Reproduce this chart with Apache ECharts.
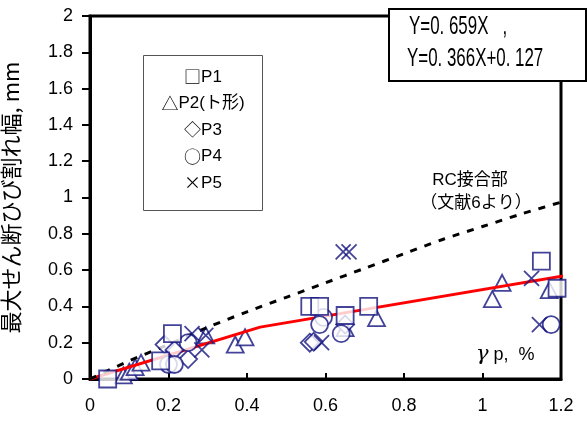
<!DOCTYPE html>
<html>
<head>
<meta charset="utf-8">
<script src="https://cdn.jsdelivr.net/npm/echarts@6/dist/echarts.min.js"></script>
<style>
  html, body { margin: 0; padding: 0; background: #fff; }
  #chart { width: 587px; height: 423px; }
</style>
</head>
<body>
<div id="chart"></div>
<script>
// Tick labels
const xTickLabels = ['0', '0.2', '0.4', '0.6', '0.8', '1', '1.2'];
const yTickLabels = ['0', '0.2', '0.4', '0.6', '0.8', '1', '1.2', '1.4', '1.6', '1.8', '2'];

// Specimen P1 (squares)
const p1X = [0.045, 0.18, 0.21, 0.56, 0.585, 0.65, 0.71, 1.15, 1.19];
const p1Y = [0.0, 0.10, 0.25, 0.40, 0.40, 0.35, 0.40, 0.65, 0.50];

// Specimen P2, T-shaped joint (triangles)
const p2X = [0.085, 0.10, 0.115, 0.13, 0.295, 0.37, 0.395, 0.65, 0.73, 1.025, 1.05, 1.17];
const p2Y = [0.02, 0.04, 0.065, 0.09, 0.24, 0.19, 0.23, 0.28, 0.335, 0.44, 0.53, 0.49];

// Specimen P3 (diamonds)
const p3X = [0.19, 0.215, 0.25, 0.56, 0.57, 0.65];
const p3Y = [0.19, 0.16, 0.11, 0.20, 0.205, 0.30];

// Specimen P4 (circles)
const p4X = [0.20, 0.215, 0.25, 0.595, 0.585, 0.64, 1.175];
const p4Y = [0.08, 0.08, 0.20, 0.34, 0.30, 0.25, 0.30];

// Specimen P5 (crosses)
const p5X = [0.26, 0.295, 0.285, 0.59, 0.645, 0.66, 1.125, 1.145];
const p5Y = [0.25, 0.24, 0.16, 0.20, 0.70, 0.70, 0.555, 0.30];

// Regression: Y=0.659X, then Y=0.366X+0.127
const fitX = [0, 0.4334, 1.225];
const fitY = [0, 0.2857, 0.575];

// RC joint reference curve
const rcX = [0, 0.1, 0.2, 0.3, 0.4, 0.5, 0.6, 0.7, 0.8, 0.9, 1.0, 1.1, 1.225];
const rcY = [0, 0.10, 0.19, 0.285, 0.37, 0.45, 0.53, 0.61, 0.69, 0.77, 0.84, 0.91, 0.99];

const NAVY = '#14147f';
const pairs = (xs, ys) => xs.map((x, i) => [x, ys[i]]);

function markers(name, xs, ys, symbol, size, z, fill) {
  return {
    name, type: 'scatter', data: pairs(xs, ys), symbol, symbolSize: size,
    clip: false, silent: true, z,
    itemStyle: { color: fill, borderColor: NAVY, borderWidth: 1.8 }
  };
}

const chart = echarts.init(document.getElementById('chart'), null, { renderer: 'canvas' });

const labelFont = { fontFamily: 'Liberation Sans, Arial, sans-serif', fontSize: 18, color: '#000' };

// key entries: symbol glyph + specimen name
const keySymbols = ['□', '△', '◇', '○', '×'];
const keyNames = ['P1', 'P2(ト形)', 'P3', 'P4', 'P5'];

// condensed lettering for the equations, drawn with a horizontal squeeze
const eqStyle = { fontFamily: 'Liberation Sans', fontSize: 26, fill: '#000', verticalAlign: 'middle' };

chart.setOption({
  animation: false,
  backgroundColor: '#fff',
  grid: {
    left: 90, top: 16, right: 26, bottom: 44,
    outerBoundsMode: 'none', containLabel: false,
    show: true, borderColor: '#000', borderWidth: 3, backgroundColor: 'transparent'
  },
  xAxis: {
    type: 'value', min: 0, max: 1.2, interval: 0.2,
    axisLine: { show: true, lineStyle: { color: '#000', width: 3 } },
    axisTick: { show: true, inside: true, length: 6, lineStyle: { color: '#000', width: 2 } },
    splitLine: { show: false },
    axisLabel: Object.assign({ margin: 18, formatter: (v) => xTickLabels[Math.round(v / 0.2)] }, labelFont)
  },
  yAxis: {
    type: 'value', min: 0, max: 2, interval: 0.2,
    name: '最大せん断ひび割れ幅, mm',
    nameLocation: 'middle', nameGap: 68, nameRotate: 90,
    nameTextStyle: { fontFamily: 'Noto Sans CJK JP, sans-serif', fontSize: 22, color: '#000' },
    axisLine: { show: true, lineStyle: { color: '#000', width: 3 } },
    axisTick: { show: true, inside: false, length: 8, lineStyle: { color: '#000', width: 2 } },
    splitLine: { show: false },
    axisLabel: Object.assign({ margin: 17, formatter: (v) => yTickLabels[Math.round(v / 0.2)] }, labelFont)
  },
  series: [
    markers('P2', p2X, p2Y, 'triangle', [17, 16], 2, '#fff'),
    {
      name: 'fit', type: 'line', data: pairs(fitX, fitY), showSymbol: false, clip: false,
      silent: true, z: 3, lineStyle: { color: '#ff0000', width: 3 }
    },
    {
      name: 'RC', type: 'line', data: pairs(rcX, rcY), showSymbol: false, clip: false,
      silent: true, z: 3, smooth: 0.3, lineStyle: { color: '#000', width: 3, type: [7, 8] }
    },
    markers('P3', p3X, p3Y, 'diamond', [18, 18], 4, '#fff'),
    markers('P4', p4X, p4Y, 'circle', 17, 4, '#fff'),
    markers('P5', p5X, p5Y, 'path://M0,0L10,10M10,0L0,10', 15, 4, 'rgba(0,0,0,0)'),
    markers('P1', p1X, p1Y, 'rect', 17, 5, '#fff')
  ],
  graphic: [
    // specimen key
    {
      type: 'rect', left: 143, top: 55, z: 10, silent: true,
      shape: { width: 119, height: 155 },
      style: { fill: '#fff', stroke: '#555', lineWidth: 1 }
    },
    ...keySymbols.map((s, i) => ({
      type: 'text', x: 203, y: 77 + i * 26.5, z: 11, silent: true,
      style: {
        text: '{s|' + s + '}{n|' + keyNames[i] + '}', align: 'center', verticalAlign: 'middle',
        rich: {
          s: { fontFamily: 'Noto Sans CJK JP', fontSize: 17, fill: '#000', color: '#000' },
          n: { fontFamily: 'Liberation Sans, Noto Sans CJK JP', fontSize: 17, fill: '#000', color: '#000' }
        }
      }
    })),
    // regression equations
    {
      type: 'rect', left: 388, top: 8, z: 10, silent: true,
      shape: { width: 197, height: 72 },
      style: { fill: '#fff', stroke: '#000', lineWidth: 2 }
    },
    {
      type: 'text', x: 409, y: 27, scaleX: 0.65, z: 11, silent: true,
      style: Object.assign({ text: 'Y=0. 659X   ,' }, eqStyle)
    },
    {
      type: 'text', x: 407, y: 59, scaleX: 0.65, z: 11, silent: true,
      style: Object.assign({ text: 'Y=0. 366X+0. 127' }, eqStyle)
    },
    // RC joint annotation
    {
      type: 'text', x: 470, y: 180, z: 11, silent: true,
      style: { text: 'RC接合部', align: 'center', verticalAlign: 'middle',
        font: '17px "Liberation Sans", "Noto Sans CJK JP", sans-serif', fill: '#000' }
    },
    {
      type: 'text', x: 476, y: 203, z: 11, silent: true,
      style: { text: '（文献6より）', align: 'center', verticalAlign: 'middle',
        font: '17px "Liberation Sans", "Noto Sans CJK JP", sans-serif', fill: '#000' }
    },
    // x-axis quantity
    {
      type: 'text', x: 476, y: 355, z: 11, silent: true,
      style: {
        text: '{g|γ}{t| p,  %}', verticalAlign: 'middle',
        rich: {
          g: { fontFamily: 'DejaVu Serif', fontStyle: 'italic', fontSize: 21, fill: '#000', color: '#000' },
          t: { fontFamily: 'Liberation Sans', fontSize: 18, fill: '#000', color: '#000' }
        }
      }
    }
  ]
});
</script>
</body>
</html>
